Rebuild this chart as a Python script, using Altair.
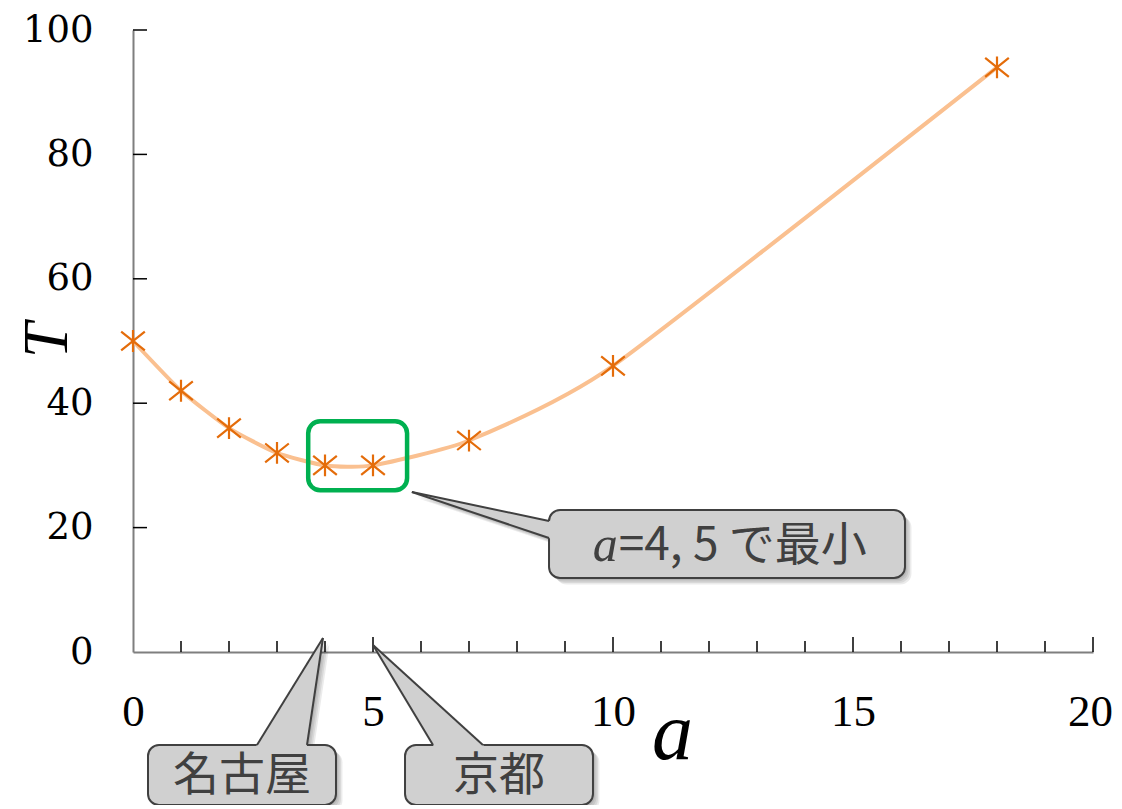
import altair as alt
import pandas as pd

# ---- data ----
a_vals = [0, 1, 2, 3, 4, 5, 7, 10, 18]
t_vals = [50, 42, 36, 32, 30, 30, 34, 46, 94]

x_label_vals = [0, 5, 10, 15, 20]
y_label_vals = [0, 20, 40, 60, 80, 100]
x_minor_ticks = [1, 2, 3, 4, 6, 7, 8, 9, 11, 12, 13, 14, 16, 17, 18, 19]
x_major_ticks = [5, 10, 15, 20]
y_ticks = [20, 40, 60, 80, 100]

# highlight box around the minimum (data units)
hl_box = {"x1": 3.65, "x2": 5.71, "y1": 26.0, "y2": 37.1}

# callouts: box in data units, pointer apex and its two base points on the box edge
callouts = [
    {"key": "min", "x1": 8.667, "x2": 16.083, "y1": 11.9, "y2": 22.83,
     "ax": 5.81, "ay": 25.72, "b1x": 8.667, "b1y": 21.06, "b2x": 8.667, "b2y": 18.33,
     "orient": "vertical"},
    {"key": "nagoya", "x1": 0.3125, "x2": 4.229, "y1": -24.6, "y2": -14.95,
     "ax": 3.958, "ay": 2.25, "b1x": 2.583, "b1y": -14.95, "b2x": 3.625, "b2y": -14.95,
     "orient": "horizontal"},
    {"key": "kyoto", "x1": 5.667, "x2": 9.583, "y1": -24.6, "y2": -14.95,
     "ax": 5.0, "ay": 1.125, "b1x": 6.25, "b1y": -14.95, "b2x": 7.29, "b2y": -14.95,
     "orient": "horizontal"},
]
center_texts = [
    {"text": "名古屋", "x": 2.27, "y": -20.0},
    {"text": "京都", "x": 7.625, "y": -20.0},
]
min_text_a = {"text": "a", "x": 10.1, "y": 17.0}
min_text_rest = {"text": "=4, 5 で最小", "x": 10.12, "y": 17.0}

# ---- styles ----
LINE_C = "#FAC090"
MARK_C = "#E46C0A"
GREEN = "#00B050"
BOX_FILL = "#D0D0D0"
BOX_STROKE = "#404040"
TEXT_C = "#404040"
CJK = "Noto Sans CJK JP"
ASTERISK = "M-1,-0.8L1,0.8M-1,0.8L1,-0.8M0,-0.92L0,0.92"

XS = alt.Scale(domain=[0, 20], nice=False, zero=False)
YS = alt.Scale(domain=[0, 100], nice=False, zero=False)

x_axis = alt.Axis(
    values=x_label_vals, title="a", ticks=False, tickSize=0, grid=False,
    domainColor="#7f7f7f", domainWidth=2,
    labelFont="Liberation Serif", labelFontSize=45, labelColor="black",
    labelPadding=37, labelFlush=False, labelOverlap=False,
    labelOffset={"condition": {"test": "datum.value === 20", "value": -3}, "value": 0},
    titleFont="Liberation Serif", titleFontStyle="italic", titleFontWeight="normal",
    titleFontSize=82, titleColor="black", titleX=539, titleY=106,
    titleAlign="center", titleBaseline="alphabetic",
)
y_axis = alt.Axis(
    values=y_label_vals, title="T", ticks=False, tickSize=0, grid=False,
    domainColor="#7f7f7f", domainWidth=2,
    labelFont="DejaVu Serif", labelFontSize=37, labelColor="black",
    labelPadding=40, labelFlush=False, labelOverlap=False,
    titleFont="Liberation Serif", titleFontStyle="italic", titleFontWeight="normal",
    titleFontSize=64, titleColor="black", titleX=-67, titleY=310, titleAngle=270,
    titleAlign="center", titleBaseline="alphabetic",
)


def X(f):
    return alt.X(f"{f}:Q", scale=XS, axis=x_axis, title="a")


def Y(f):
    return alt.Y(f"{f}:Q", scale=YS, axis=y_axis, title="T")


def X2(f):
    return alt.X2(f"{f}:Q")


def Y2(f):
    return alt.Y2(f"{f}:Q")


main = pd.DataFrame({"a": a_vals, "T": t_vals})

line = alt.Chart(main).mark_line(
    interpolate="cardinal", tension=0.45, color=LINE_C, strokeWidth=4
).encode(x=X("a"), y=Y("T"))

points = alt.Chart(main).mark_point(
    shape=ASTERISK, size=560, filled=False, color=MARK_C, strokeWidth=2.2, opacity=1
).encode(x=X("a"), y=Y("T"))

# inward ticks
xminor = alt.Chart(pd.DataFrame({"v": x_minor_ticks, "z": 0})).mark_rule(
    color="black", strokeWidth=1.5, y2Offset=-11
).encode(x=X("v"), y=Y("z"), y2=Y2("z"))
xmajor = alt.Chart(pd.DataFrame({"v": x_major_ticks, "z": 0})).mark_rule(
    color="black", strokeWidth=1.5, y2Offset=-15
).encode(x=X("v"), y=Y("z"), y2=Y2("z"))
yt = alt.Chart(pd.DataFrame({"v": y_ticks, "z": 0})).mark_rule(
    color="black", strokeWidth=1.5, x2Offset=14
).encode(y=Y("v"), x=X("z"), x2=X2("z"))

# highlight box
hl = alt.Chart(pd.DataFrame([hl_box])).mark_rect(
    fill=None, fillOpacity=0, stroke=GREEN, strokeWidth=4.5, cornerRadius=12
).encode(x=X("x1"), x2=X2("x2"), y=Y("y1"), y2=Y2("y2"))

cdf = pd.DataFrame(callouts)

layers_shadow = []
layers_ptr = []
SHADOW_OFFS = (2, 3.5, 5, 6.5)

for c in callouts:
    ext = 1.08
    e1x = c["ax"] + ext * (c["b1x"] - c["ax"])
    e1y = c["ay"] + ext * (c["b1y"] - c["ay"])
    e2x = c["ax"] + ext * (c["b2x"] - c["ax"])
    e2y = c["ay"] + ext * (c["b2y"] - c["ay"])
    if c["orient"] == "vertical":
        pdf = pd.DataFrame({"k": [c["ax"], e1x], "lo": [c["ay"], e1y], "hi": [c["ay"], e2y]})
        enc = dict(x=X("k"), y=Y("lo"), y2=Y2("hi"))
    else:
        pdf = pd.DataFrame({"k": [c["ay"], e1y], "lo": [c["ax"], e1x], "hi": [c["ax"], e2x]})
        enc = dict(y=Y("k"), x=X("lo"), x2=X2("hi"))
    for off in SHADOW_OFFS:
        layers_shadow.append(
            alt.Chart(pdf).mark_area(
                orient=c["orient"], color="black", opacity=0.08,
                xOffset=off, yOffset=off, x2Offset=off, y2Offset=off
            ).encode(**enc)
        )
    layers_ptr.append(
        alt.Chart(pdf).mark_area(orient=c["orient"], color=BOX_FILL, opacity=1).encode(**enc)
    )
    sdf = pd.DataFrame({"ax": [c["ax"], c["ax"]], "ay": [c["ay"], c["ay"]],
                        "bx": [c["b1x"], c["b2x"]], "by": [c["b1y"], c["b2y"]]})
    layers_ptr.append(
        alt.Chart(sdf).mark_rule(color=BOX_STROKE, strokeWidth=2).encode(
            x=X("ax"), y=Y("ay"), x2=X2("bx"), y2=Y2("by"))
    )

for off in SHADOW_OFFS:
    layers_shadow.append(
        alt.Chart(cdf).mark_rect(
            color="black", opacity=0.08, cornerRadius=11,
            xOffset=off, x2Offset=off, yOffset=off, y2Offset=off
        ).encode(x=X("x1"), x2=X2("x2"), y=Y("y1"), y2=Y2("y2"))
    )

boxes = alt.Chart(cdf).mark_rect(
    fill=BOX_FILL, stroke=BOX_STROKE, strokeWidth=2, cornerRadius=11
).encode(x=X("x1"), x2=X2("x2"), y=Y("y1"), y2=Y2("y2"))

ctext = alt.Chart(pd.DataFrame(center_texts)).mark_text(
    font=CJK, fontSize=46, color=TEXT_C, align="center", baseline="middle"
).encode(x=X("x"), y=Y("y"), text="text:N")

ta = alt.Chart(pd.DataFrame([min_text_a])).mark_text(
    font="Liberation Serif", fontStyle="italic", fontSize=50, color=TEXT_C,
    align="right", baseline="middle"
).encode(x=X("x"), y=Y("y"), text="text:N")
trest = alt.Chart(pd.DataFrame([min_text_rest])).mark_text(
    font=CJK, fontSize=46, color=TEXT_C, align="left", baseline="middle"
).encode(x=X("x"), y=Y("y"), text="text:N")

chart = alt.layer(
    line, xminor, xmajor, yt, points, hl,
    *layers_shadow, boxes, *layers_ptr, ctext, ta, trest
).properties(
    width=960, height=622,
    autosize=alt.AutoSizeParams(type="none"),
    padding={"left": 125, "top": 22, "right": 21, "bottom": 153},
    background="white",
).configure_view(stroke=None)

chart.save("out.html", embed_options={"renderer": "svg", "actions": False})
